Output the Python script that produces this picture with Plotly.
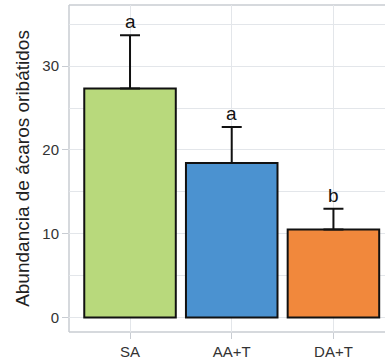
import plotly.graph_objects as go

# Treatments, mean abundance and upper error (SE) for each bar
tratamientos = ["SA", "AA+T", "DA+T"]
abundancia = [27.35, 18.45, 10.5]
error_sup = [6.35, 4.3, 2.5]
letras = ["a", "a", "b"]
colores = ["#b8d97c", "#4b92d0", "#f1883c"]

fig = go.Figure()
fig.add_trace(go.Bar(
    x=[0, 1, 2],
    y=abundancia,
    width=0.9,
    marker=dict(color=colores, line=dict(color="#111111", width=2)),
    error_y=dict(type="data", symmetric=False, array=error_sup,
                 arrayminus=[0] * len(error_sup),
                 color="#111111", thickness=2, width=10),
    showlegend=False,
))

# Significance letters above each error bar
for i, (m, e, l) in enumerate(zip(abundancia, error_sup, letras)):
    fig.add_annotation(x=i, y=m + e, text=l, showarrow=False,
                       yanchor="bottom", yshift=1,
                       font=dict(size=19, color="#111111"))

# Panel border: left, top and bottom edges
border = "#c8ccd2"
for x0, x1, y0, y1 in [(0, 0, 0, 1), (0, 1, 1, 1), (0, 1, 0, 0)]:
    fig.add_shape(type="line", xref="paper", yref="paper",
                  x0=x0, x1=x1, y0=y0, y1=y1,
                  line=dict(color=border, width=1.5), layer="below")

grid = "#e3e6ea"
fig.update_layout(
    width=385, height=362,
    margin=dict(l=69, r=0, t=5, b=30),
    plot_bgcolor="white", paper_bgcolor="white",
    font=dict(family="Liberation Sans, Arial, sans-serif", color="#222222"),
)
fig.update_xaxes(
    range=[-0.6, 2.507],
    tickmode="array", tickvals=[0, 1, 2], ticktext=tratamientos,
    showgrid=True, gridcolor=grid, gridwidth=1,
    showline=False,
    ticks="outside", ticklen=6, tickcolor=border, tickwidth=1,
    tickfont=dict(size=15, color="#333333"),
    zeroline=False, fixedrange=True,
)
fig.update_yaxes(
    range=[-1.72, 37.3],
    tickvals=[0, 10, 20, 30],
    showgrid=True, gridcolor=grid, gridwidth=1,
    minor=dict(tickvals=[5, 15, 25, 35], showgrid=True, gridcolor=grid, gridwidth=1),
    showline=False,
    ticks="outside", ticklen=6, tickcolor=border, tickwidth=1,
    tickfont=dict(size=15, color="#333333"),
    title=dict(text="Abundancia de ácaros oribátidos",
               font=dict(size=19, color="#222222"), standoff=7),
    zeroline=False, fixedrange=True,
)

fig.write_html("out.html", config={"staticPlot": True, "displayModeBar": False})
